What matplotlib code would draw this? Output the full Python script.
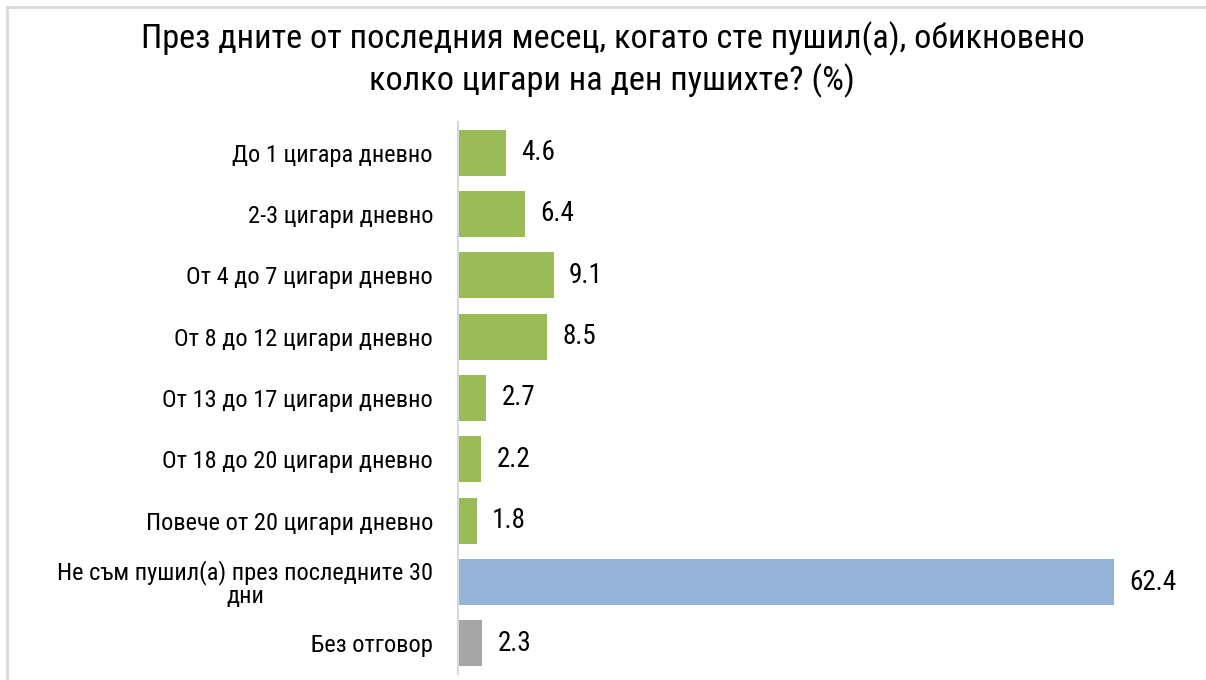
import numpy as np
import matplotlib.pyplot as plt
from matplotlib.patches import Rectangle
plt.switch_backend('agg')

plt.rcParams['font.family'] = ['Roboto Condensed', 'PT Sans Narrow', 'DejaVu Sans']

## Data
categories = ['До 1 цигара дневно',
			  '2-3 цигари дневно',
			  'От 4 до 7 цигари дневно',
			  'От 8 до 12 цигари дневно',
			  'От 13 до 17 цигари дневно',
			  'От 18 до 20 цигари дневно',
			  'Повече от 20 цигари дневно',
			  'Не съм пушил(а) през последните 30\nдни',
			  'Без отговор']
values = [4.6, 6.4, 9.1, 8.5, 2.7, 2.2, 1.8, 62.4, 2.3]
colors = ['#9BBB59']*7 + ['#95B3D7', '#A5A5A5']
title_lines = ['През дните от последния месец, когато сте пушил(а), обикновено',
			   'колко цигари на ден пушихте? (%)']

W, H = 1206, 680
fig = plt.figure(figsize=(W/100, H/100), dpi=100)
# light frame (only top & left visible in reference)
fig.patches.append(Rectangle((7/W, -0.1), 1.2, 1 - 7/H + 0.1, transform=fig.transFigure,
							 fill=False, edgecolor='#D9D9D9', linewidth=2))

ax = fig.add_axes([458/W, 1 - 674/H, (1180 - 458)/W, (674 - 122)/H])
y = np.arange(len(values))
ax.barh(y, values, height=0.75, color=colors)
ax.set_ylim(len(values) - 0.5, -0.5)
ax.set_xlim(0, 62.4 * (1180 - 458) / (1114 - 458))

for yi, v in zip(y, values):
	ax.annotate(f'{v:.1f}', (v, yi), xytext=(11, 0), textcoords='offset points',
				va='center', ha='left', fontsize=19.5)

ax.set_yticks(y)
ax.set_yticklabels(categories, fontsize=17.6, multialignment='center')
ax.get_yticklabels()[7].set_linespacing(0.95)
ax.tick_params(axis='y', length=0, pad=18)
ax.set_xticks([])
for s in ['top', 'right', 'bottom']:
	ax.spines[s].set_visible(False)
ax.spines['left'].set_color('#D9D9D9')
ax.spines['left'].set_linewidth(1.5)

fig.text(613/W, 1 - 48/H, title_lines[0], ha='center', va='baseline', fontsize=24.7)
fig.text(612/W, 1 - 90/H, title_lines[1], ha='center', va='baseline', fontsize=24.7)

fig.savefig('out.png', dpi=100)
